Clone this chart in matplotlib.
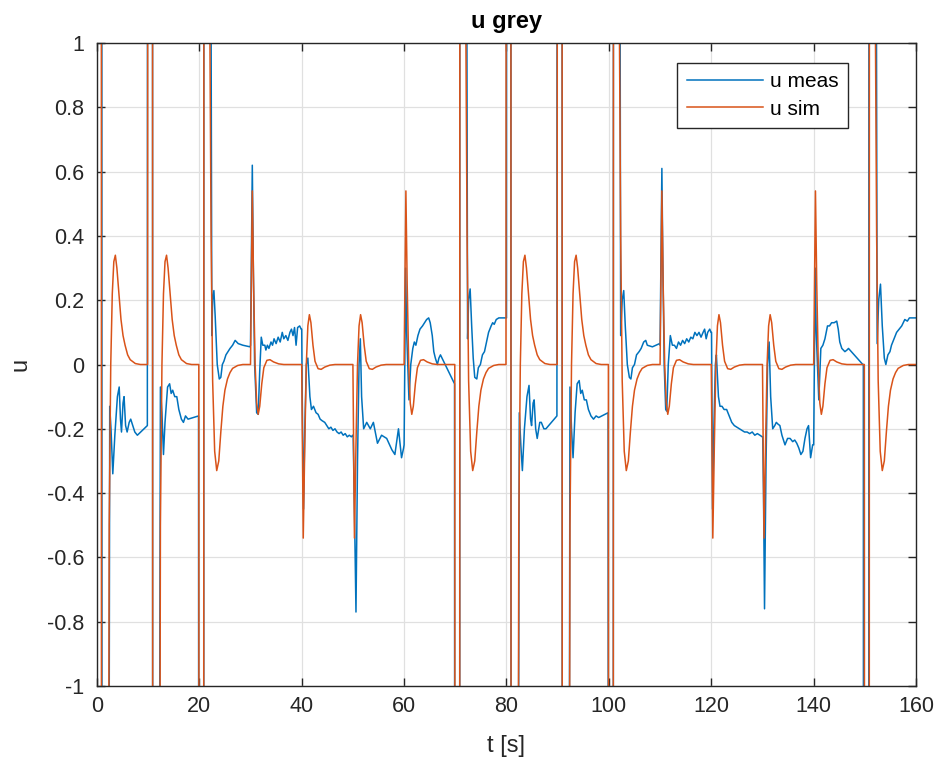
import numpy as np
import matplotlib
matplotlib.use("Agg")
import matplotlib.pyplot as plt

plt.rcParams['font.family'] = ['Liberation Sans', 'DejaVu Sans']

t_meas = [
    0.0, 0.95, 1.0, 2.2, 2.5, 2.75, 3.1, 3.5, 4.0, 4.35, 4.6, 4.8, 5.1, 5.3, 5.6, 5.9, 6.3, 6.6, 7.0, 7.4, 7.9, 9.85,
    9.9, 10.85, 10.9, 12.0, 12.4, 12.7, 13.0, 13.3, 13.8, 14.2, 14.5, 14.8, 15.2, 15.6, 16.0, 16.5, 16.9, 17.3, 17.8, 19.85,
    19.9, 20.85, 20.9, 22.0, 22.45, 22.6, 22.85, 23.1, 23.5, 23.9, 24.2, 24.5, 24.8, 25.2, 25.6, 26.0, 26.5, 27.0, 27.3, 27.6, 28.5, 29.9,
    30.0, 30.35, 30.55, 30.8, 31.2, 31.5, 31.8, 32.1, 32.4, 32.8, 33.0, 33.3, 33.6, 34.0, 34.3, 34.6, 35.0, 35.4, 35.8, 36.2, 36.5,
    36.9, 37.3, 37.7, 38.0, 38.3, 38.6, 38.9, 39.2, 39.6, 39.9,
    40.0, 40.1, 40.35, 40.6, 40.9, 41.2, 41.6, 41.9, 42.3, 42.8, 43.2, 43.6, 44.0, 44.5, 44.9, 45.3, 45.7, 46.1, 46.5, 46.9, 47.3,
    47.7, 48.1, 48.5, 48.9, 49.3, 49.7, 49.95,
    50.05, 50.35, 50.6, 50.9, 51.2, 51.45, 51.7, 52.1, 52.7, 53.4, 54.0, 54.8, 55.6, 56.6, 57.6, 58.2, 58.9, 59.5, 59.9,
    60.0, 60.3, 60.5, 60.95, 61.3, 61.7, 62.0, 62.3, 62.7, 63.1, 63.6, 64.0, 64.4, 64.8, 65.1, 65.5, 65.8, 66.1, 66.5, 66.8, 67.1, 69.85,
    69.9, 70.85, 70.9, 72.0, 72.4, 72.6, 72.9, 73.2, 73.5, 73.8, 74.2, 74.5, 74.9, 75.3, 75.7, 76.1, 76.5, 77.0, 77.3, 77.6, 78.0, 78.5, 79.95,
    80.0, 80.05, 80.85, 80.9, 82.1, 82.5, 82.8, 83.1, 83.5, 84.0, 84.4, 84.7, 84.9, 85.2, 85.4, 85.7, 86.0, 86.5, 86.8, 87.3, 87.7, 89.85,
    89.9, 90.85, 90.9, 92.1, 92.4, 92.7, 93.0, 93.4, 93.8, 94.2, 94.5, 94.8, 95.2, 95.6, 96.0, 96.5, 97.0, 97.5, 98.0, 99.85,
    99.9, 100.85, 100.9, 102.0, 102.3, 102.6, 102.9, 103.2, 103.6, 104.0, 104.3, 104.6, 105.0, 105.4, 105.9, 106.3, 106.8, 107.2,
    107.5, 108.5, 109.9,
    110.0, 110.35, 110.55, 110.8, 111.1, 111.3, 111.6, 112.0, 112.4, 112.8, 113.2, 113.6, 114.0, 114.4, 114.8, 115.2, 115.6, 116.0,
    116.4, 116.8, 117.2, 117.6, 118.0, 118.4, 118.7, 119.0, 119.3, 119.7, 119.95,
    120.05, 120.25, 120.5, 120.8, 121.0, 121.4, 121.7, 122.1, 122.5, 123.0, 123.5, 124.0, 124.5, 125.0, 125.5, 126.0, 126.5, 127.0,
    127.5, 128.0, 128.5, 129.0, 129.5, 129.95,
    130.05, 130.2, 130.4, 130.7, 131.0, 131.3, 131.6, 132.0, 132.4, 132.7, 133.0, 133.4, 133.8, 134.4, 134.9, 135.4, 135.9, 136.3,
    136.7, 137.1, 137.5, 137.9, 138.3, 138.7, 139.0, 139.4, 139.8,
    140.0, 140.3, 140.5, 141.0, 141.4, 141.8, 142.2, 142.7, 143.1, 143.5, 144.0, 144.5, 144.8, 145.1, 145.5, 146.1, 146.5, 146.8, 149.6,
    149.7, 149.75, 150.75, 150.8, 152.0, 152.4, 152.7, 153.05, 153.4, 153.8, 154.1, 154.5, 154.9, 155.2, 155.7, 156.2, 156.7, 157.2,
    157.8, 158.3, 158.7, 160.0,
]
u_meas = [
    3, 3, -3, -3, -0.13, -0.2, -0.34, -0.22, -0.1, -0.07, -0.17, -0.21, -0.12, -0.1, -0.19, -0.21, -0.18, -0.17, -0.19, -0.21, -0.22, -0.19,
    3, 3, -3, -3, -0.07, -0.15, -0.28, -0.18, -0.07, -0.06, -0.09, -0.08, -0.1, -0.1, -0.14, -0.17, -0.18, -0.16, -0.17, -0.16,
    -3, -3, 3, 3, 0.09, 0.2, 0.23, 0.15, 0.0, -0.045, -0.04, 0.0, 0.01, 0.03, 0.04, 0.05, 0.06, 0.075, 0.07, 0.065, 0.06, 0.055,
    0.06, 0.62, 0.3, 0.0, -0.15, -0.155, -0.02, 0.085, 0.06, 0.06, 0.045, 0.06, 0.05, 0.07, 0.06, 0.08, 0.065, 0.085, 0.07, 0.1, 0.08,
    0.09, 0.075, 0.1, 0.11, 0.09, 0.115, 0.06, 0.115, 0.12, 0.11,
    0.11, -0.1, -0.45, -0.2, 0.0, 0.02, -0.1, -0.14, -0.13, -0.15, -0.155, -0.17, -0.175, -0.18, -0.19, -0.2, -0.195, -0.205, -0.2, -0.21, -0.215,
    -0.21, -0.22, -0.215, -0.225, -0.22, -0.225, -0.22,
    -0.22, -0.5, -0.77, -0.3, 0.0, 0.08, -0.1, -0.2, -0.18, -0.2, -0.18, -0.245, -0.22, -0.23, -0.265, -0.28, -0.2, -0.29, -0.26,
    -0.25, 0.3, 0.1, -0.11, 0.0, 0.05, 0.07, 0.06, 0.09, 0.11, 0.12, 0.13, 0.14, 0.145, 0.13, 0.09, 0.04, 0.02, 0.0, 0.02, 0.03, -0.06,
    -3, -3, 3, 3, 0.08, 0.2, 0.235, 0.12, 0.02, -0.04, -0.045, -0.01, 0.0, 0.03, 0.04, 0.07, 0.1, 0.12, 0.13, 0.125, 0.14, 0.145, 0.145,
    0.145, 3, 3, -3, -3, -0.15, -0.25, -0.33, -0.2, -0.1, -0.065, -0.17, -0.19, -0.12, -0.11, -0.2, -0.23, -0.18, -0.18, -0.2, -0.2, -0.16,
    3, 3, -3, -3, -0.07, -0.2, -0.29, -0.15, -0.06, -0.05, -0.09, -0.08, -0.11, -0.11, -0.14, -0.16, -0.17, -0.16, -0.165, -0.15,
    -3, -3, 3, 3, 0.09, 0.2, 0.23, 0.12, 0.0, -0.04, -0.045, -0.01, 0.0, 0.03, 0.04, 0.05, 0.07, 0.075,
    0.06, 0.055, 0.065,
    0.06, 0.61, 0.3, 0.0, -0.14, -0.145, 0.0, 0.09, 0.06, 0.06, 0.05, 0.07, 0.06, 0.075, 0.065, 0.08, 0.07, 0.085,
    0.08, 0.1, 0.09, 0.1, 0.085, 0.1, 0.11, 0.08, 0.1, 0.11, 0.1,
    0.1, -0.45, -0.2, 0.0, 0.03, -0.1, -0.13, -0.13, -0.14, -0.14, -0.16, -0.18, -0.19, -0.195, -0.2, -0.205, -0.21, -0.21,
    -0.215, -0.21, -0.22, -0.215, -0.22, -0.225,
    -0.225, -0.4, -0.76, -0.3, 0.0, 0.07, -0.1, -0.2, -0.19, -0.18, -0.185, -0.19, -0.22, -0.25, -0.23, -0.23, -0.24, -0.235,
    -0.245, -0.26, -0.28, -0.27, -0.23, -0.2, -0.19, -0.29, -0.25,
    -0.25, 0.3, 0.1, -0.11, 0.05, 0.06, 0.08, 0.12, 0.12, 0.13, 0.13, 0.135, 0.11, 0.07, 0.05, 0.04, 0.045, 0.05, 0.0,
    0.0, -3, -3, 3, 3, 0.065, 0.2, 0.25, 0.12, 0.02, 0.0, 0.03, 0.04, 0.06, 0.08, 0.1, 0.11, 0.12,
    0.14, 0.135, 0.145, 0.145,
]

# simulated u: every 10 s step gives one of four responses
step_times = [0, 10, 20, 30, 40, 50, 60, 70, 80, 90, 100, 110, 120, 130, 140, 150]
step_kind = ['A', 'A', 'B', 'C', 'D', 'D', 'C', 'B', 'A', 'A', 'B', 'C', 'D', 'D', 'C', 'B']
resp_dt = {
    'A': [-0.1, -0.05, 0.85, 0.9, 2.1, 2.4, 2.7, 3.0, 3.3, 3.6, 3.9, 4.3, 4.7, 5.1, 5.5, 6.0, 6.5, 7.5, 8.5, 9.9],
    'B': [-0.1, -0.05, 0.85, 0.9, 2.0, 2.3, 2.6, 3.0, 3.4, 3.8, 4.2, 4.6, 5.0, 5.5, 6.0, 6.5, 7.5, 8.5, 9.9],
    'C': [-0.05, 0.0, 0.35, 0.6, 0.9, 1.2, 1.5, 1.8, 2.2, 2.6, 3.2, 3.8, 4.5, 5.5, 6.5, 9.9],
    'D': [-0.05, 0.0, 0.3, 0.6, 0.9, 1.2, 1.5, 1.8, 2.2, 2.6, 3.2, 3.8, 4.5, 5.5, 6.5, 9.9],
}
resp_u = {
    'A': [0, 3, 3, -3, -3, -0.5, 0.0, 0.22, 0.32, 0.34, 0.3, 0.22, 0.14, 0.09, 0.06, 0.03, 0.015, 0.003, 0, 0],
    'B': [0, -3, -3, 3, 1.2, 0.4, -0.05, -0.27, -0.33, -0.3, -0.21, -0.13, -0.08, -0.045, -0.025, -0.012, -0.003, 0, 0],
    'C': [0, 0, 0.54, 0.25, 0.0, -0.12, -0.155, -0.13, -0.06, -0.01, 0.013, 0.015, 0.008, 0.002, 0, 0],
    'D': [0, 0, -0.54, -0.25, 0.0, 0.12, 0.155, 0.13, 0.06, 0.01, -0.013, -0.015, -0.008, -0.002, 0, 0],
}

t_sim, u_sim = [], []
for T, k in zip(step_times, step_kind):
    t_sim += [T + d for d in resp_dt[k]]
    u_sim += resp_u[k]

fig = plt.figure(figsize=(9.41, 7.69), dpi=100)
ax = fig.add_axes([0.103, 0.108, 0.8705, 0.836])

ax.plot(t_meas, u_meas, color='#0072BD', lw=1.1, label='u meas')
ax.plot(t_sim, u_sim, color='#D95319', lw=1.1, label='u sim')

ax.set_xlim(0, 160)
ax.set_ylim(-1, 1)
ax.set_xticks(np.arange(0, 161, 20))
ax.set_yticks(np.round(np.arange(-1, 1.01, 0.2), 1))
ax.set_yticklabels(['-1', '-0.8', '-0.6', '-0.4', '-0.2', '0', '0.2', '0.4', '0.6', '0.8', '1'])
ax.grid(True, color='#e0e0e0', lw=0.9)
ax.set_axisbelow(True)
ax.tick_params(direction='in', top=True, right=True, length=6, width=1.0,
               labelsize=15.5, colors='#262626')
ax.tick_params(axis='y', pad=9)
ax.tick_params(axis='x', pad=7)
for s in ax.spines.values():
    s.set_color('#262626')
    s.set_linewidth(1.0)

ax.set_xlabel('t [s]', fontsize=17, color='#262626', labelpad=13)
ax.set_ylabel('u', fontsize=17, color='#262626', labelpad=11)
ax.set_title('u grey', fontsize=17, fontweight='bold', color='black', pad=10.5)

leg = ax.legend(loc='upper right', bbox_to_anchor=(0.917, 0.969), borderaxespad=0,
                fontsize=15, fancybox=False, framealpha=1, edgecolor='#262626',
                handlelength=3.65, handletextpad=0.35, borderpad=0.45, labelspacing=0.4)
leg.get_frame().set_linewidth(1.0)

fig.savefig('out.png', dpi=100)
